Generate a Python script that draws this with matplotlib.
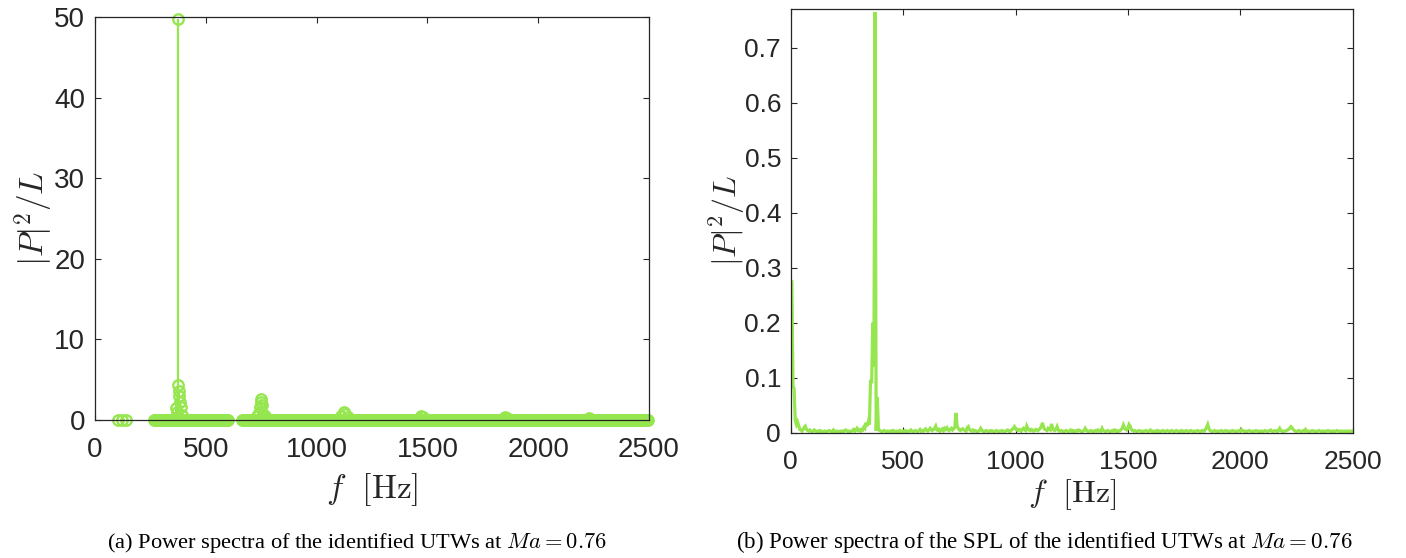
import numpy as np
import matplotlib
matplotlib.use("Agg")
import matplotlib.pyplot as plt

plt.rcParams["mathtext.fontset"] = "cm"
plt.rcParams["font.family"] = ["Liberation Sans", "DejaVu Sans"]

GREEN = "#96E650"
INK = "#262626"

# ---------------- (a) power spectra of the identified UTWs ----------------
# isolated low-frequency bins
utw_iso_freq = [105, 122, 139]
utw_iso_val = [0.0, 0.0, 0.0]
# frequency bands where spectral bins are present (Hz) and their bin spacing
utw_bands = [(265, 605), (665, 2500)]
utw_bin_hz = 6
# spectral lines that stand out above the floor
utw_peak_freq = [375, 376, 378, 381, 384, 388, 365, 370, 392,
                 730, 738, 744, 748, 750, 753, 758, 765, 772,
                 1110, 1122, 1130, 1140, 1470, 1480, 1850, 1860, 2230]
utw_peak_val = [49.8, 4.3, 3.6, 3.0, 2.2, 1.6, 1.5, 1.0, 0.6,
                0.5, 0.9, 1.6, 2.2, 2.6, 1.8, 0.8, 0.5, 0.3,
                0.5, 1.0, 0.7, 0.4, 0.45, 0.35, 0.35, 0.2, 0.2]

# ---------------- (b) power spectra of the SPL ----------------
spl_df = 5  # Hz per bin, bins start at 0 Hz
spl_val_milli = [
    270, 272, 85, 80, 22, 15, 20, 14, 6, 5, 3, 6, 10, 12, 6, 4, 3, 5, 3, 2,
    3, 5, 3, 2, 3, 2, 4, 3, 2, 2, 3, 2, 2, 3, 4, 3, 2, 2, 5, 3,
    2, 3, 2, 2, 3, 2, 3, 2, 4, 5, 3, 2, 3, 2, 3, 4, 6, 3, 5, 8,
    4, 5, 3, 6, 5, 10, 8, 18, 12, 20, 15, 96, 90, 200, 120, 765, 4, 65, 8, 4,
    3, 2, 3, 4, 3, 2, 3, 2, 3, 3, 2, 4, 3, 2, 3, 2, 3, 4, 2, 3,
    3, 2, 4, 3, 2, 3, 3, 5, 3, 2, 3, 4, 3, 2, 4, 6, 3, 4, 3, 5,
    7, 4, 3, 5, 8, 5, 4, 6, 8, 12, 5, 4, 6, 3, 5, 7, 4, 8, 6, 9,
    5, 4, 6, 8, 5, 7, 10, 36, 12, 8, 5, 4, 6, 7, 5, 4, 3, 9, 11, 6,
    4, 3, 5, 3, 4, 3, 2, 3, 4, 8, 5, 3, 2, 3, 4, 3, 2, 3, 4, 3,
    3, 2, 3, 4, 3, 2, 3, 3, 4, 3, 2, 3, 4, 5, 3, 2, 4, 6, 8, 11,
    7, 5, 4, 6, 5, 3, 6, 8, 5, 4, 12, 7, 5, 4, 6, 5, 3, 4, 6, 5,
    4, 6, 8, 12, 18, 10, 6, 5, 4, 8, 6, 5, 16, 9, 5, 4, 6, 11, 5, 3,
    3, 4, 3, 2, 3, 4, 3, 2, 3, 5, 3, 4, 2, 3, 4, 3, 5, 4, 3, 2,
    3, 4, 8, 5, 3, 2, 3, 4, 3, 2, 3, 4, 3, 5, 3, 4, 3, 8, 4, 3,
    2, 3, 4, 3, 2, 3, 4, 3, 5, 3, 4, 2, 3, 4, 6, 8, 14, 9, 6, 5,
    8, 15, 12, 6, 4, 3, 4, 3, 2, 3, 4, 3, 2, 3, 2, 3, 4, 3, 2, 3,
    5, 3, 2, 3, 2, 3, 4, 2, 3, 2, 3, 4, 3, 2, 3, 4, 3, 2, 3, 4,
    3, 2, 3, 4, 3, 2, 3, 2, 4, 3, 2, 3, 4, 3, 2, 3, 4, 3, 2, 3,
    2, 3, 4, 3, 2, 3, 4, 3, 3, 6, 10, 15, 8, 4, 3, 2, 3, 4, 3, 2,
    3, 2, 3, 4, 3, 2, 3, 4, 3, 2, 3, 2, 3, 4, 3, 2, 3, 2, 3, 4,
    3, 6, 4, 3, 2, 3, 2, 3, 4, 3, 2, 3, 2, 3, 4, 3, 2, 3, 2, 3,
    2, 3, 4, 3, 2, 3, 4, 5, 3, 2, 3, 4, 3, 2, 5, 8, 4, 3, 2, 3,
    3, 4, 5, 6, 8, 11, 9, 6, 4, 3, 2, 3, 4, 3, 2, 3, 4, 3, 6, 3,
    2, 3, 2, 3, 4, 3, 2, 3, 2, 3, 4, 3, 2, 3, 2, 3, 2, 3, 4, 3,
    2, 3, 2, 3, 2, 3, 4, 3, 2, 3, 2, 3, 2, 3, 2, 3, 2, 3, 2, 3,
    2,
]

x_ticks = [0, 500, 1000, 1500, 2000, 2500]
a_yticks = [0, 10, 20, 30, 40, 50]
b_yticks = [0, 0.1, 0.2, 0.3, 0.4, 0.5, 0.6, 0.7]

ylabel_tex = r"$|P|^2/L$"
xlabel_tex = r"$f\ \ [\mathrm{Hz}]$"
caption_a = r"(a) Power spectra of the identified UTWs at $Ma = 0.76$"
caption_b = r"(b) Power spectra of the SPL of the identified UTWs at $Ma = 0.76$"

# assemble series
band_freq = [np.arange(lo, hi + 1, utw_bin_hz) for lo, hi in utw_bands]
utw_freq = np.concatenate([np.array(utw_iso_freq, float)] + band_freq +
                          [np.array(utw_peak_freq, float)])
utw_val = np.concatenate([np.array(utw_iso_val, float)] +
                         [np.zeros(len(b)) for b in band_freq] +
                         [np.array(utw_peak_val, float)])
order = np.argsort(utw_freq, kind="stable")
utw_freq, utw_val = utw_freq[order], utw_val[order]

spl_val = np.array(spl_val_milli, float) * 1e-3
spl_freq = np.arange(len(spl_val)) * spl_df

fig = plt.figure(figsize=(14.06, 5.58), dpi=100)
ax1 = fig.add_axes([0.0676, 0.2473, 0.394, 0.7222])
ax2 = fig.add_axes([0.5624, 0.2245, 0.3997, 0.7599])


def style(ax, size, xpad):
    for s in ax.spines.values():
        s.set_color(INK)
        s.set_linewidth(0.9)
    ax.tick_params(direction="in", length=4.5, width=0.8, color=INK,
                   labelcolor=INK, labelsize=size, top=True, right=True)
    ax.tick_params(axis="y", pad=7)
    ax.tick_params(axis="x", pad=xpad)


# (a) stem plot with hollow circle markers
markerline, stemlines, baseline = ax1.stem(utw_freq, utw_val, basefmt=" ")
stemlines.set_color(GREEN)
stemlines.set_linewidth(1.6)
markerline.set_marker("o")
markerline.set_markersize(7.5)
markerline.set_markerfacecolor("none")
markerline.set_markeredgecolor(GREEN)
markerline.set_markeredgewidth(1.7)
markerline.set_linestyle("none")
markerline.set_clip_on(False)
ax1.set_xlim(0, 2500)
ax1.set_ylim(0, 50)
ax1.set_xticks(x_ticks)
ax1.set_yticks(a_yticks)
style(ax1, 20, 12)
ax1.set_ylabel(ylabel_tex, fontsize=24, color=INK, labelpad=-1)
ax1.set_xlabel(xlabel_tex, fontsize=24, color=INK, labelpad=6)

# (b) line spectrum
ax2.plot(spl_freq, spl_val, color=GREEN, lw=2.3, solid_joinstyle="miter")
ax2.set_xlim(0, 2500)
ax2.set_ylim(0, 0.771)
ax2.set_xticks(x_ticks)
ax2.set_yticks(b_yticks)
ax2.set_yticklabels(["0", "0.1", "0.2", "0.3", "0.4", "0.5", "0.6", "0.7"])
style(ax2, 19, 12.5)
ax2.set_ylabel(ylabel_tex, fontsize=23, color=INK, labelpad=-2)
ax2.set_xlabel(xlabel_tex, fontsize=23, color=INK, labelpad=2)

fig.text(0.254, 0.018, caption_a, ha="center", va="baseline", fontsize=16.2,
         family="Liberation Serif", color="black")
fig.text(0.7425, 0.018, caption_b, ha="center", va="baseline", fontsize=16.6,
         family="Liberation Serif", color="black")

fig.savefig("out.png", dpi=100)
